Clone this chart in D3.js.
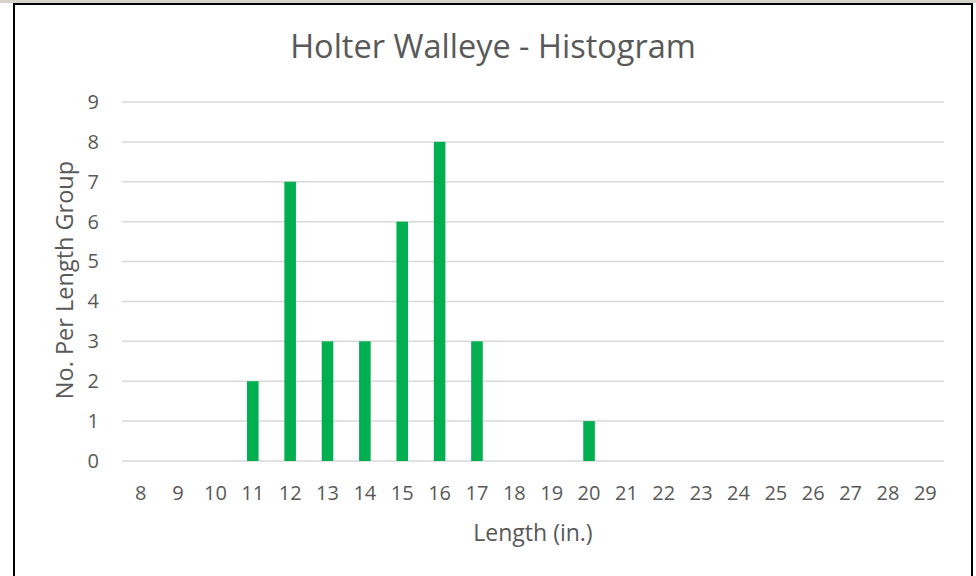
<!DOCTYPE html>
<html>
<head>
<meta charset="utf-8">
<script src="https://cdn.jsdelivr.net/npm/d3@7"></script>
<style>
  html, body { margin: 0; padding: 0; background: #ffffff; }
  svg { display: block; }
  text { font-family: "Open Sans", sans-serif; fill: #595959; }
</style>
</head>
<body>
<div id="chart"></div>
<script>
// chart values
var lengths = ["8","9","10","11","12","13","14","15","16","17","18","19","20","21","22","23","24","25","26","27","28","29"];
var counts  = [0, 0, 0, 2, 7, 3, 3, 6, 8, 3, 0, 0, 1, 0, 0, 0, 0, 0, 0, 0, 0, 0];
var yTicks  = [0, 1, 2, 3, 4, 5, 6, 7, 8, 9];

var W = 976, H = 576;
var margin = { top: 102, right: 32, bottom: 115, left: 122 };
var width = W - margin.left - margin.right,
    height = H - margin.top - margin.bottom;

var svg = d3.select("#chart").append("svg")
    .attr("width", W)
    .attr("height", H);

// top strip + frame
svg.append("rect").attr("x", 0).attr("y", 0).attr("width", W).attr("height", 3).attr("fill", "#d8d2cc");
svg.append("rect")
    .attr("x", 14).attr("y", 4)
    .attr("width", 958).attr("height", 600)
    .attr("fill", "#ffffff")
    .attr("stroke", "#000000")
    .attr("stroke-width", 2);

var g = svg.append("g")
    .attr("transform", "translate(" + margin.left + "," + margin.top + ")");

var x = d3.scaleBand()
    .domain(lengths)
    .range([0, width])
    .paddingInner(0.69)
    .paddingOuter(0.345);

var y = d3.scaleLinear()
    .domain([0, 9])
    .range([height, 0]);

// gridlines
g.selectAll(".grid").data(yTicks).enter().append("line")
    .attr("class", "grid")
    .attr("x1", 0).attr("x2", width)
    .attr("y1", function(d){ return y(d); })
    .attr("y2", function(d){ return y(d); })
    .attr("stroke", "#d9d9d9")
    .attr("stroke-width", 1.5);

// bars
g.selectAll(".bar").data(counts).enter().append("rect")
    .attr("class", "bar")
    .attr("x", function(d, i){ return x(lengths[i]); })
    .attr("width", x.bandwidth())
    .attr("y", function(d){ return y(d); })
    .attr("height", function(d){ return height - y(d); })
    .attr("fill", "#00b050");

// y axis labels
var yAxis = d3.axisLeft(y).tickValues(yTicks).tickSize(0).tickPadding(23);
g.append("g").call(yAxis)
    .call(function(a){ a.select(".domain").remove(); })
    .selectAll("text")
    .style("font-size", "20px")
    .attr("fill", "#595959");

// x axis labels
var xAxis = d3.axisBottom(x).tickSize(0).tickPadding(25);
g.append("g").attr("transform", "translate(0," + height + ")").call(xAxis)
    .call(function(a){ a.select(".domain").remove(); })
    .selectAll("text")
    .style("font-size", "20px")
    .attr("fill", "#595959");

// title
svg.append("text")
    .attr("x", 493).attr("y", 58)
    .attr("text-anchor", "middle")
    .style("font-size", "32.5px")
    .text("Holter Walleye - Histogram");

// axis titles
svg.append("text")
    .attr("x", 533).attr("y", 541)
    .attr("text-anchor", "middle")
    .style("font-size", "23px")
    .text("Length (in.)");

svg.append("text")
    .attr("transform", "translate(73,280) rotate(-90)")
    .attr("text-anchor", "middle")
    .style("font-size", "23.5px")
    .text("No. Per Length Group");
</script>
</body>
</html>
